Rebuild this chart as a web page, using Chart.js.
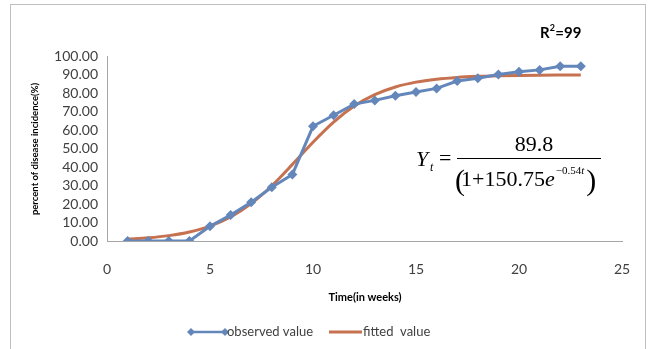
<!DOCTYPE html>
<html>
<head>
<meta charset="utf-8">
<script src="https://cdn.jsdelivr.net/npm/chart.js@4/dist/chart.umd.min.js"></script>
<style>
  html, body { margin: 0; padding: 0; background: #fff; }
  #wrap { width: 651px; height: 349px; position: relative; }
</style>
</head>
<body>
<div id="wrap"><canvas id="c" width="651" height="349"></canvas></div>
<script>
// Weeks since first observation
const weeks = [1,2,3,4,5,6,7,8,9,10,11,12,13,14,15,16,17,18,19,20,21,22,23];
// Observed disease incidence (%)
const observed = [0,0,0,0,8,14,21,29,36,62,68,74,76,78.5,80.5,82.5,86.5,88,90,91.5,92.5,94.5,94.5];
// Logistic model output (%)
const fitted = [1.01,1.72,2.91,4.89,8.07,13.01,20.22,29.88,41.41,53.42,64.29,72.94,79.13,83.26,85.87,87.47,88.43,88.99,89.33,89.52,89.64,89.71,89.75];
const xTicks = [0,5,10,15,20,25];
const yTicks = [0,10,20,30,40,50,60,70,80,90,100];

const seriesNames = ['observed value', 'fitted  value'];
const blue = '#6487BB';
const orange = '#C6714F';
const textCol = '#404040';
const sans = 'Lato, "Liberation Sans", sans-serif';

const toPts = (ys) => weeks.map((w, i) => ({x: w, y: ys[i]}));

const decor = {
  id: 'decor',
  afterDraw(chart) {
    const ctx = chart.ctx;
    ctx.save();
    // outer frame
    ctx.strokeStyle = '#BFBFBF';
    ctx.lineWidth = 1;
    ctx.strokeRect(10.5, 4.5, 635, 360);

    ctx.fillStyle = '#000';
    // y axis title
    ctx.save();
    ctx.translate(35, 149);
    ctx.rotate(-Math.PI / 2);
    ctx.font = 'bold 9.5px ' + sans;
    ctx.textAlign = 'center';
    ctx.textBaseline = 'middle';
    ctx.fillText('percent of disease incidence(%)', 0, 0);
    ctx.restore();

    // x axis title
    ctx.font = 'bold 11px ' + sans;
    ctx.textAlign = 'center';
    ctx.textBaseline = 'middle';
    ctx.fillText('Time(in weeks)', 365, 297);

    // R squared
    ctx.font = 'bold 15px ' + sans;
    ctx.textAlign = 'left';
    ctx.textBaseline = 'alphabetic';
    ctx.fillText('R', 540, 38);
    let w = ctx.measureText('R').width;
    ctx.font = 'bold 9px ' + sans;
    ctx.fillText('2', 540 + w, 31);
    let w2 = ctx.measureText('2').width;
    ctx.font = 'bold 15px ' + sans;
    ctx.fillText('=99', 540 + w + w2 + 0.5, 38);

    // model equation
    const serif = '"Liberation Serif", "DejaVu Serif", serif';
    ctx.font = 'italic 22px ' + serif;
    ctx.fillText('Y', 416, 166);
    ctx.font = 'italic 12px ' + serif;
    ctx.fillText('t', 430, 171);
    ctx.font = '22px ' + serif;
    ctx.fillText('=', 439, 165);
    ctx.textAlign = 'center';
    ctx.fillText('89.8', 534, 151);
    ctx.fillRect(457, 158, 144, 1);
    ctx.textAlign = 'left';
    let x = 456;
    ctx.font = '30px ' + serif;
    ctx.fillText('(', x - 1, 190);
    x += 5;
    ctx.font = '22px ' + serif;
    ctx.fillText('1+150.75', x, 186);
    x += ctx.measureText('1+150.75').width;
    ctx.font = 'italic 22px ' + serif;
    ctx.fillText('e', x, 186);
    x += ctx.measureText('e').width + 1;
    ctx.font = '11px ' + serif;
    ctx.fillText('\u22120.54', x, 174);
    x += ctx.measureText('\u22120.54').width;
    ctx.font = 'italic 11px ' + serif;
    ctx.fillText('t', x, 174);
    x += ctx.measureText('t').width + 2;
    ctx.font = '30px ' + serif;
    ctx.fillText(')', x, 190);

    // legend
    const ly = 332;
    ctx.strokeStyle = blue;
    ctx.lineWidth = 2.5;
    ctx.beginPath(); ctx.moveTo(191, ly); ctx.lineTo(225, ly); ctx.stroke();
    ctx.fillStyle = blue;
    [191, 225].forEach(px => {
      ctx.beginPath();
      ctx.moveTo(px, ly - 4); ctx.lineTo(px + 4, ly); ctx.lineTo(px, ly + 4); ctx.lineTo(px - 4, ly);
      ctx.closePath(); ctx.fill();
    });
    ctx.fillStyle = textCol;
    ctx.font = '13px ' + sans;
    ctx.textAlign = 'left';
    ctx.textBaseline = 'middle';
    ctx.fillText(seriesNames[0], 227, ly);
    ctx.strokeStyle = orange;
    ctx.lineWidth = 3;
    ctx.beginPath(); ctx.moveTo(329, ly); ctx.lineTo(362, ly); ctx.stroke();
    ctx.fillText(seriesNames[1], 363, ly);
    ctx.restore();
  }
};

new Chart(document.getElementById('c'), {
  type: 'scatter',
  data: {
    datasets: [
      {
        label: seriesNames[1],
        data: toPts(fitted),
        showLine: true,
        borderColor: orange,
        borderWidth: 3,
        pointRadius: 0,
        cubicInterpolationMode: 'monotone',
        order: 2
      },
      {
        label: seriesNames[0],
        data: toPts(observed),
        showLine: true,
        borderColor: blue,
        backgroundColor: blue,
        borderWidth: 3,
        pointStyle: 'rectRot',
        pointRadius: 5,
        pointBorderWidth: 0,
        tension: 0,
        order: 1
      }
    ]
  },
  options: {
    responsive: false,
    animation: false,
    events: [],
    layout: { padding: { left: 10, right: 29, top: 56, bottom: 0 } },
    plugins: { legend: { display: false }, tooltip: { enabled: false } },
    scales: {
      x: {
        type: 'linear',
        min: 0, max: 25,
        afterBuildTicks: (s) => { s.ticks = xTicks.map(v => ({value: v})); },
        afterFit: (s) => { s.height = 108; },
        grid: { display: false, drawTicks: false },
        border: { display: true, color: '#A6A6A6', width: 1 },
        ticks: { padding: 20, autoSkip: false, maxRotation: 0, color: textCol, font: { family: sans, size: 14 } }
      },
      y: {
        min: 0, max: 100,
        afterBuildTicks: (s) => { s.ticks = yTicks.map(v => ({value: v})); },
        afterFit: (s) => { s.width = 97; },
        grid: { display: false, drawTicks: false },
        border: { display: true, color: '#A6A6A6', width: 1 },
        ticks: {
          padding: 9, autoSkip: false, color: textCol, font: { family: sans, size: 14 },
          callback: (v) => Number(v).toFixed(2)
        }
      }
    }
  },
  plugins: [decor]
});
</script>
</body>
</html>
